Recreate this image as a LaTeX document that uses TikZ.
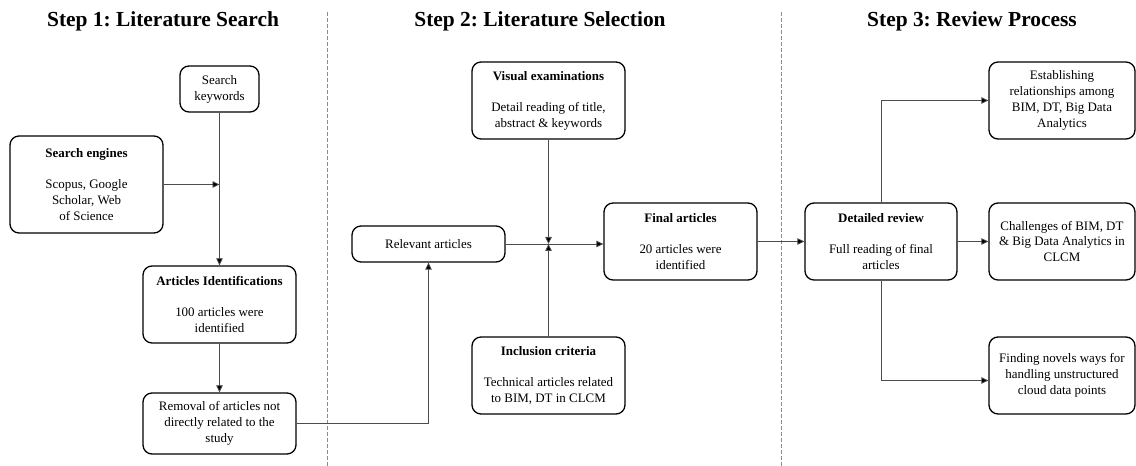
\documentclass[tikz,border=0pt]{standalone}
\usepackage{fontspec}
\setmainfont{Liberation Serif}
\usetikzlibrary{arrows.meta}
\frenchspacing
\begin{document}
\begin{tikzpicture}[x=1bp,y=-1bp,
  box/.style={draw, line width=1.3bp, rounded corners=9bp, align=center,
    font=\fontsize{13}{16}\selectfont, inner sep=0pt},
  ttl/.style={font=\fontsize{21.5}{24}\selectfont\bfseries, inner sep=0pt},
  conn/.style={draw=black!70, line width=0.8bp, -{Triangle[length=7bp,width=6.5bp,fill=black]}},
  sep/.style={draw=black!45, line width=0.9bp, dash pattern=on 4bp off 2bp}]
\useasboundingbox (0,0) rectangle (1136,466);
% titles
\node[ttl] (t1) at (163,21) {Step 1: Literature Search};
\node[ttl] (t2) at (540,21) {Step 2: Literature Selection};
\node[ttl] (t3) at (972,21) {Step 3: Review Process};
% separators
\coordinate (s1a) at (327,12); \coordinate (s1b) at (327,466);
\coordinate (s2a) at (781,12); \coordinate (s2b) at (781,466);
\draw[sep] (s1a) -- (s1b);
\draw[sep] (s2a) -- (s2b);
% step 1
\node[box, minimum width=79bp, minimum height=46bp] (kw) at (219.5,89) {Search\\keywords};
\node[box, minimum width=153bp, minimum height=97bp] (se) at (86.5,184.5)
  {\textbf{Search engines}\\[15bp]Scopus, Google\\Scholar, Web\\of Science};
\node[box, minimum width=153bp, minimum height=77bp] (aid) at (219.5,304.5)
  {\textbf{Articles Identifications}\\[15bp]100 articles were\\identified};
\node[box, minimum width=153bp, minimum height=61bp] (rem) at (219.5,423.5)
  {Removal of articles not\\directly related to the\\study};
% step 2
\node[box, minimum width=153bp, minimum height=36bp] (rel) at (428.5,244) {Relevant articles};
\node[box, minimum width=153bp, minimum height=77bp] (vis) at (548.5,100.5)
  {\textbf{Visual examinations}\\[15bp]Detail reading of title,\\abstract \& keywords};
\node[box, minimum width=153bp, minimum height=77bp] (inc) at (548.5,375.5)
  {\textbf{Inclusion criteria}\\[15bp]Technical articles related\\to BIM, DT in CLCM};
\node[box, minimum width=153bp, minimum height=77bp] (fin) at (680.5,241.5)
  {\textbf{Final articles}\\[15bp]20 articles were\\identified};
% step 3
\node[box, minimum width=152bp, minimum height=77bp] (det) at (881,241.5)
  {\textbf{Detailed review}\\[15bp]Full reading of final\\articles};
\node[box, minimum width=146bp, minimum height=77bp] (est) at (1062,100.5)
  {Establishing\\relationships among\\BIM, DT, Big Data\\Analytics};
\node[box, minimum width=146bp, minimum height=77bp] (cha) at (1062,241.5)
  {Challenges of BIM, DT\\\& Big Data Analytics in\\CLCM};
\node[box, minimum width=146bp, minimum height=77bp] (fnd) at (1062,375.5)
  {Finding novels ways for\\handling unstructured\\cloud data points};
% connectors
\draw[conn] (kw.south) -- (aid.north);
\draw[conn] (se.east) -- (se.east -| kw.south);
\draw[conn] (aid.south) -- (rem.north);
\draw[conn] (rem.east) -| (rel.south);
\draw[conn] (rel.east) -- (rel.east -| fin.west);
\draw[conn] (vis.south) -- (vis.south |- rel.east);
\draw[conn] (inc.north) -- (inc.north |- rel.east);
\draw[conn] (fin.east) -- (det.west);
\draw[conn] (det.north) |- (est.west);
\draw[conn] (det.east) -- (cha.west);
\draw[conn] (det.south) |- ([yshift=-5bp]fnd.west);
\end{tikzpicture}
\end{document}
